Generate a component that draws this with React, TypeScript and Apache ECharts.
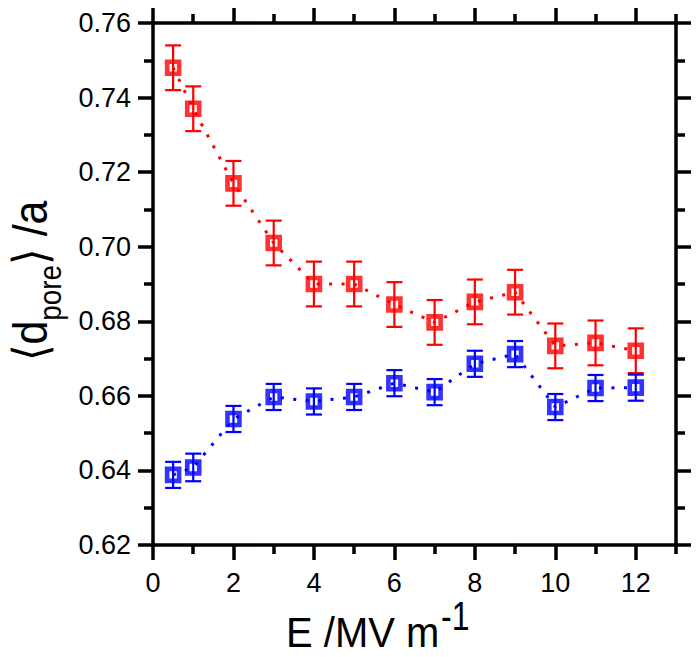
import React, { useEffect, useRef } from "react";
import * as echarts from "echarts";

const xValues = [0.5, 1, 2, 3, 4, 5, 6, 7, 8, 9, 10, 11, 12];
const redValues = [0.748, 0.737, 0.717, 0.701, 0.690, 0.690, 0.6845, 0.6797, 0.6852, 0.6878, 0.6734, 0.6742, 0.6721];
const redErrors = [0.006, 0.006, 0.006, 0.006, 0.006, 0.006, 0.006, 0.006, 0.006, 0.006, 0.006, 0.006, 0.006];
const blueValues = [0.6388, 0.6408, 0.6538, 0.6597, 0.6585, 0.6597, 0.6634, 0.661, 0.6686, 0.6712, 0.657, 0.6621, 0.6622];
const blueErrors = [0.0035, 0.0037, 0.0035, 0.0035, 0.0035, 0.0035, 0.0035, 0.0035, 0.0035, 0.0035, 0.0035, 0.0035, 0.0035];

const xMajorTicks = [0, 2, 4, 6, 8, 10, 12];
const xMinorTicks = [1, 3, 5, 7, 9, 11, 13];
const yMajorTicks = [0.62, 0.64, 0.66, 0.68, 0.7, 0.72, 0.74, 0.76];
const yMinorTicks = [0.63, 0.65, 0.67, 0.69, 0.71, 0.73, 0.75];

const xTitle = "E /MV m";
const xTitleSup = "-1";

const RED = "#ff0000";
const BLUE = "#0000ff";
const FONT = "'Liberation Sans', Arial, Helvetica, sans-serif";

function makeAxis(kind: "x" | "y", position: string, major: boolean, showLabel: boolean) {
  const base: any = {
    type: "value",
    position,
    min: kind === "x" ? 0 : 0.62,
    max: kind === "x" ? 13 : 0.76,
    splitLine: { show: false },
    axisLine: { show: major, onZero: false, lineStyle: { color: "#000", width: 3.5 } },
    axisTick: {
      show: true,
      inside: false,
      length: major ? 15 : 9,
      customValues: kind === "x" ? (major ? xMajorTicks : xMinorTicks) : major ? yMajorTicks : yMinorTicks,
      lineStyle: { color: "#000", width: 3.5 },
    },
    axisLabel: { show: false },
  };
  if (showLabel) {
    base.axisLabel = {
      show: true,
      customValues: kind === "x" ? xMajorTicks : yMajorTicks,
      fontSize: 27,
      fontFamily: FONT,
      color: "#000",
      margin: kind === "x" ? 24 : 22,
      formatter: (v: number) => (kind === "x" ? String(Math.round(v)) : v.toFixed(2)),
    };
  }
  return base;
}

export default function App() {
  const ref = useRef<HTMLDivElement>(null);
  useEffect(() => {
    if (!ref.current) return;
    const chart = echarts.init(ref.current, null, { renderer: "svg" });

    const errRender = (color: string) => (params: any, api: any) => {
      const x = api.value(0);
      const y = api.value(1);
      const e = api.value(2);
      const top = api.coord([x, y + e]);
      const bot = api.coord([x, y - e]);
      const cap = 8;
      const st = { stroke: color, lineWidth: 2.2 };
      return {
        type: "group",
        children: [
          { type: "line", shape: { x1: top[0], y1: top[1], x2: bot[0], y2: bot[1] }, style: st },
          { type: "line", shape: { x1: top[0] - cap, y1: top[1], x2: top[0] + cap, y2: top[1] }, style: st },
          { type: "line", shape: { x1: bot[0] - cap, y1: bot[1], x2: bot[0] + cap, y2: bot[1] }, style: st },
        ],
      };
    };

    const redPts = xValues.map((x, i) => [x, redValues[i]]);
    const bluePts = xValues.map((x, i) => [x, blueValues[i]]);
    const redErr = xValues.map((x, i) => [x, redValues[i], redErrors[i]]);
    const blueErr = xValues.map((x, i) => [x, blueValues[i], blueErrors[i]]);

    const lineSeries = (data: number[][], color: string) => ({
      type: "line",
      data,
      symbol: "none",
      silent: true,
      lineStyle: { color, width: 3, type: [3, 9.5] },
      z: 2,
    });
    const scatterSeries = (data: number[][], color: string) => ({
      type: "scatter",
      data,
      symbol: "rect",
      symbolSize: 12,
      itemStyle: { color: "rgba(0,0,0,0)", borderColor: color, borderWidth: 4.6 },
      z: 4,
    });
    const errSeries = (data: number[][], color: string) => ({
      type: "custom",
      data,
      encode: { x: 0, y: 1 },
      renderItem: errRender(color),
      z: 3,
    });

    chart.setOption({
      animation: false,
      backgroundColor: "#fff",
      grid: { left: 153, right: 24, top: 23, bottom: 112, containLabel: false },
      xAxis: [
        makeAxis("x", "bottom", true, true),
        makeAxis("x", "bottom", false, false),
        makeAxis("x", "top", true, false),
        makeAxis("x", "top", false, false),
      ],
      yAxis: [
        makeAxis("y", "left", true, true),
        makeAxis("y", "left", false, false),
        makeAxis("y", "right", true, false),
        makeAxis("y", "right", false, false),
      ],
      series: [
        lineSeries(redPts, RED),
        lineSeries(bluePts, BLUE),
        errSeries(redErr, RED),
        errSeries(blueErr, BLUE),
        scatterSeries(redPts, RED),
        scatterSeries(bluePts, BLUE),
      ],
      graphic: [
        {
          type: "text",
          x: 286,
          y: 653,
          scaleX: 0.93,
          style: {
            text: xTitle,
            fontSize: 43,
            fontFamily: FONT,
            fill: "#000",
            align: "left",
            verticalAlign: "bottom",
          },
        },
        {
          type: "text",
          x: 441,
          y: 636,
          scaleX: 0.8,
          style: {
            text: xTitleSup,
            fontSize: 40,
            fontFamily: FONT,
            fill: "#000",
            align: "left",
            verticalAlign: "bottom",
          },
        },
        {
          type: "text",
          x: 36,
          y: 281,
          rotation: Math.PI / 2,
          scaleX: 0.93,
          scaleY: 1.05,
          style: {
            text: "{m|\u27e8d}{s|pore}{m|\u27e9 /a}",
            align: "center",
            verticalAlign: "middle",
            fill: "#000",
            rich: {
              m: { fontSize: 46, fontFamily: FONT, verticalAlign: "bottom", padding: [0, 0, 10, 0], fill: "#000" },
              s: { fontSize: 30, fontFamily: FONT, verticalAlign: "bottom", fill: "#000" },
            },
          },
        },
      ],
    });
    return () => chart.dispose();
  }, []);
  return (
    <div
      ref={ref}
      style={{ position: "fixed", left: 0, top: 0, width: 700, height: 657, background: "#fff" }}
    />
  );
}
